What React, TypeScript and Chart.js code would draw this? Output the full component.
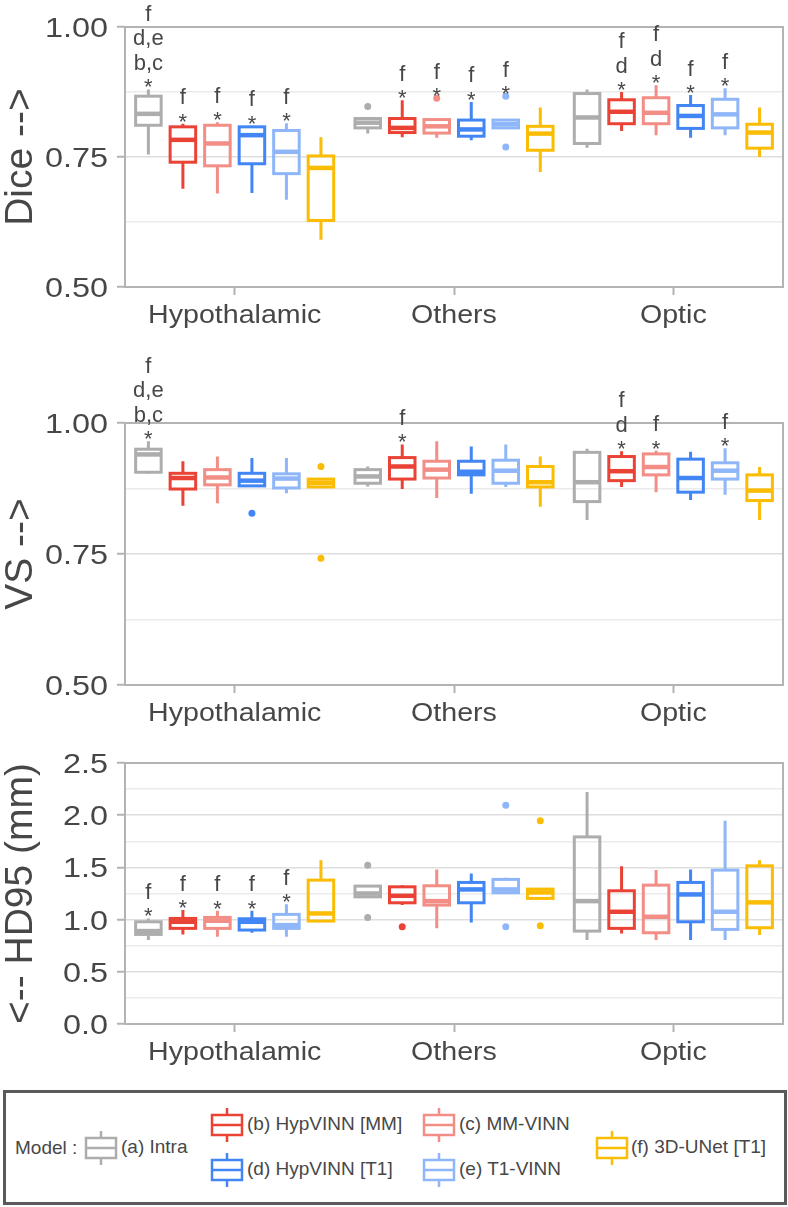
import React, { useEffect, useRef } from 'react';
import { Chart, registerables } from 'chart.js';

Chart.register(...registerables);

const categories = ['Hypothalamic', 'Others', 'Optic'];
const modelLabels = ['(a) Intra', '(b) HypVINN [MM]', '(c) MM-VINN', '(d) HypVINN [T1]', '(e) T1-VINN', '(f) 3D-UNet [T1]'];
const modelColors = ['#adadad', '#ea4335', '#f28e86', '#4285f4', '#8eb6f8', '#fbbc04'];

// five-number summaries: [lower whisker, Q1, median, Q3, upper whisker] for Hypothalamic, Others, Optic
const diceA = [[0.755, 0.811, 0.833, 0.867, 0.880], [0.795, 0.806, 0.816, 0.824, 0.826], [0.768, 0.776, 0.826, 0.872, 0.880]];
const diceB = [[0.689, 0.740, 0.783, 0.808, 0.814], [0.788, 0.797, 0.806, 0.824, 0.859], [0.800, 0.814, 0.837, 0.860, 0.875]];
const diceC = [[0.680, 0.733, 0.776, 0.811, 0.817], [0.787, 0.796, 0.809, 0.822, 0.823], [0.792, 0.814, 0.835, 0.864, 0.888]];
const diceD = [[0.681, 0.737, 0.792, 0.808, 0.810], [0.782, 0.790, 0.803, 0.821, 0.856], [0.787, 0.805, 0.829, 0.849, 0.869]];
const diceE = [[0.668, 0.718, 0.760, 0.801, 0.815], [0.804, 0.806, 0.813, 0.821, 0.823], [0.792, 0.806, 0.832, 0.861, 0.882]];
const diceF = [[0.591, 0.628, 0.729, 0.752, 0.788], [0.721, 0.763, 0.795, 0.809, 0.845], [0.750, 0.767, 0.797, 0.813, 0.845]];
const diceOutliers = [[[], [0.847], []], [[], [], []], [[], [0.863], []], [[], [], []], [[], [0.867, 0.769], []], [[], [], []]];
const diceNotes = [
  [['f', 'd,e', 'b,c', '*'], [], []],
  [['f', '*'], ['f', '*'], ['f', 'd', '*']],
  [['f', '*'], ['f', '*'], ['f', 'd', '*']],
  [['f', '*'], ['f', '*'], ['f', '*']],
  [['f', '*'], ['f', '*'], ['f', '*']],
  [[], [], []],
];
const diceTicks = ['0.50', '0.75', '1.00'];

const vsA = [[0.903, 0.906, 0.940, 0.950, 0.965], [0.879, 0.885, 0.898, 0.911, 0.917], [0.815, 0.850, 0.887, 0.944, 0.951]];
const vsB = [[0.842, 0.874, 0.895, 0.904, 0.927], [0.874, 0.893, 0.917, 0.934, 0.959], [0.878, 0.890, 0.908, 0.936, 0.946]];
const vsC = [[0.847, 0.882, 0.896, 0.911, 0.936], [0.857, 0.895, 0.911, 0.927, 0.965], [0.868, 0.901, 0.916, 0.941, 0.947]];
const vsD = [[0.878, 0.880, 0.890, 0.904, 0.933], [0.865, 0.901, 0.907, 0.927, 0.955], [0.853, 0.868, 0.895, 0.931, 0.945]];
const vsE = [[0.866, 0.876, 0.894, 0.903, 0.933], [0.878, 0.885, 0.909, 0.929, 0.959], [0.863, 0.893, 0.909, 0.924, 0.952]];
const vsF = [[0.878, 0.878, 0.886, 0.893, 0.893], [0.840, 0.878, 0.887, 0.917, 0.936], [0.815, 0.852, 0.871, 0.901, 0.916]];
const vsOutliers = [[[], [], []], [[], [], []], [[], [], []], [[0.828], [], []], [[], [], []], [[0.917, 0.742], [], []]];
const vsNotes = [
  [['f', 'd,e', 'b,c', '*'], [], []],
  [[], ['f', '*'], ['f', 'd', '*']],
  [[], [], ['f', '*']],
  [[], [], []],
  [[], [], ['f', '*']],
  [[], [], []],
];
const vsTicks = ['0.50', '0.75', '1.00'];

const hdA = [[0.804, 0.858, 0.890, 0.979, 1.011], [1.210, 1.218, 1.250, 1.321, 1.330], [0.804, 0.890, 1.177, 1.792, 2.223]];
const hdB = [[0.858, 0.916, 0.979, 1.011, 1.091], [1.139, 1.161, 1.228, 1.314, 1.330], [0.868, 0.916, 1.075, 1.276, 1.512]];
const hdC = [[0.835, 0.916, 0.989, 1.021, 1.084], [0.916, 1.139, 1.177, 1.324, 1.480], [0.804, 0.874, 1.027, 1.330, 1.474]];
const hdD = [[0.874, 0.900, 0.979, 1.008, 1.084], [0.973, 1.161, 1.289, 1.356, 1.442], [0.804, 0.979, 1.241, 1.356, 1.480]];
const hdE = [[0.835, 0.916, 0.947, 1.050, 1.148], [1.250, 1.257, 1.289, 1.385, 1.400], [0.804, 0.906, 1.075, 1.474, 1.946]];
const hdF = [[0.986, 0.986, 1.059, 1.378, 1.569], [1.203, 1.203, 1.260, 1.292, 1.292], [0.852, 0.922, 1.165, 1.515, 1.569]];
const hdOutliers = [[[], [1.521, 1.021], []], [[], [0.931], []], [[], [], []], [[], [], []], [[], [2.096, 0.931], []], [[], [1.946, 0.941], []]];
const hdNotes = [
  [['f', '*'], [], []],
  [['f', '*'], [], []],
  [['f', '*'], [], []],
  [['f', '*'], [], []],
  [['f', '*'], [], []],
  [[], [], []],
];
const hdTicks = ['0.0', '0.5', '1.0', '1.5', '2.0', '2.5'];

const TEXT = '#474747';
const FRAME = '#b3b3b3';
const FONT = '"Liberation Sans", Arial, Helvetica, sans-serif';

type Panel = {
  title: string;
  top: number;
  height: number;
  plotTop: number;
  plotBottom: number;
  min: number;
  max: number;
  minorStep: number;
  majorStep: number;
  tickLabels: string[];
  stats: number[][][];
  outliers: number[][][];
  notes: string[][][];
};

const panels: Panel[] = [
  { title: 'Dice -->', top: 0, height: 335, plotTop: 27, plotBottom: 287, min: 0.5, max: 1.0, minorStep: 0.125, majorStep: 0.25,
    tickLabels: diceTicks, stats: [diceA, diceB, diceC, diceD, diceE, diceF], outliers: diceOutliers, notes: diceNotes },
  { title: 'VS -->', top: 335, height: 400, plotTop: 88, plotBottom: 350, min: 0.5, max: 1.0, minorStep: 0.125, majorStep: 0.25,
    tickLabels: vsTicks, stats: [vsA, vsB, vsC, vsD, vsE, vsF], outliers: vsOutliers, notes: vsNotes },
  { title: '<-- HD95 (mm)', top: 735, height: 345, plotTop: 28, plotBottom: 289, min: 0, max: 2.5, minorStep: 0.25, majorStep: 0.5,
    tickLabels: hdTicks, stats: [hdA, hdB, hdC, hdD, hdE, hdF], outliers: hdOutliers, notes: hdNotes },
];

function isMajor(v: number, step: number) {
  const r = v / step;
  return Math.abs(r - Math.round(r)) < 1e-6;
}

function makePlugin(p: Panel) {
  return {
    id: 'boxes',
    beforeDatasetsDraw(chart: any) {
      const { ctx, chartArea: a } = chart;
      ctx.save();
      ctx.strokeStyle = FRAME;
      ctx.lineWidth = 2;
      ctx.strokeRect(a.left, a.top, a.right - a.left, a.bottom - a.top);
      ctx.restore();
    },
    afterDatasetsDraw(chart: any) {
      const { ctx } = chart;
      const ys = chart.scales.y;
      const px = (v: number) => ys.getPixelForValue(v);
      ctx.save();
      chart.data.datasets.forEach((_ds: any, di: number) => {
        const meta = chart.getDatasetMeta(di);
        const color = modelColors[di];
        meta.data.forEach((el: any, ci: number) => {
          const s = p.stats[di][ci];
          const x = el.x;
          const w = el.width;
          ctx.strokeStyle = color;
          ctx.fillStyle = color;
          ctx.lineCap = 'butt';
          ctx.lineWidth = 3;
          ctx.beginPath();
          ctx.moveTo(x, px(s[0]));
          ctx.lineTo(x, px(s[1]));
          ctx.moveTo(x, px(s[3]));
          ctx.lineTo(x, px(s[4]));
          ctx.stroke();
          ctx.lineWidth = 3;
          ctx.strokeRect(x - w / 2, px(s[3]), w, px(s[1]) - px(s[3]));
          ctx.lineWidth = 4.5;
          ctx.beginPath();
          ctx.moveTo(x - w / 2, px(s[2]));
          ctx.lineTo(x + w / 2, px(s[2]));
          ctx.stroke();
          const outs = p.outliers[di][ci];
          outs.forEach((v) => {
            ctx.beginPath();
            ctx.arc(x, px(v), 3.5, 0, Math.PI * 2);
            ctx.fill();
          });
          const notes = p.notes[di][ci];
          if (notes.length) {
            const topVal = Math.max(s[4], ...outs);
            const base = px(topVal) + 5;
            ctx.fillStyle = TEXT;
            ctx.font = `22px ${FONT}`;
            ctx.textAlign = 'center';
            ctx.textBaseline = 'alphabetic';
            for (let k = notes.length - 1; k >= 0; k--) {
              const off = notes.length - 1 - k;
              ctx.fillText(notes[k], x, base - off * 24.5);
            }
          }
        });
      });
      ctx.restore();
    },
    afterDraw(chart: any) {
      const { ctx, chartArea: a } = chart;
      const ys = chart.scales.y;
      const xs = chart.scales.x;
      ctx.save();
      ctx.fillStyle = TEXT;
      ctx.textBaseline = 'alphabetic';
      ctx.font = `27px ${FONT}`;
      ctx.textAlign = 'right';
      p.tickLabels.forEach((lab) => {
        const y = ys.getPixelForValue(Number(lab));
        ctx.save();
        ctx.translate(108, y + 10);
        ctx.scale(1.2, 1);
        ctx.fillText(lab, 0, 0);
        ctx.restore();
      });
      ctx.font = `26px ${FONT}`;
      ctx.textAlign = 'center';
      categories.forEach((c, i) => {
        const x = xs.getPixelForValue(i);
        ctx.save();
        ctx.translate(x, a.bottom + 36);
        ctx.scale(1.1, 1);
        ctx.fillText(c, 0, 0);
        ctx.restore();
      });
      ctx.font = `39px ${FONT}`;
      ctx.save();
      ctx.translate(32, (a.top + a.bottom) / 2);
      ctx.rotate(-Math.PI / 2);
      ctx.textAlign = 'center';
      ctx.fillText(p.title, 0, 0);
      ctx.restore();
      ctx.restore();
    },
  };
}

function PanelChart({ p }: { p: Panel }) {
  const ref = useRef<HTMLCanvasElement | null>(null);
  useEffect(() => {
    if (!ref.current) return;
    const chart = new Chart(ref.current, {
      type: 'bar',
      data: {
        labels: categories,
        datasets: modelLabels.map((name, i) => ({
          label: name,
          data: p.stats[i].map((s) => [s[1], s[3]]),
          backgroundColor: 'rgba(0,0,0,0)',
          borderWidth: 0,
          categoryPercentage: 0.944,
          barPercentage: 0.74,
        })),
      } as any,
      options: {
        responsive: false,
        animation: false,
        devicePixelRatio: 1,
        events: [],
        layout: { padding: { top: p.plotTop, right: 5, left: 0, bottom: 0 } },
        plugins: { legend: { display: false }, tooltip: { enabled: false } },
        scales: {
          x: {
            type: 'category',
            offset: true,
            border: { display: false },
            ticks: { display: false },
            grid: { display: true, drawOnChartArea: false, drawTicks: true, tickLength: 8, tickColor: FRAME, tickWidth: 2, offset: false },
            afterFit: (s: any) => { s.height = p.height - p.plotBottom; },
          },
          y: {
            type: 'linear',
            min: p.min,
            max: p.max,
            border: { display: false },
            ticks: { display: false, stepSize: p.minorStep },
            grid: {
              drawTicks: true,
              tickLength: 8,
              tickWidth: 2,
              lineWidth: 1.5,
              color: (c: any) => {
                const v = c.tick ? c.tick.value : 0;
                if (Math.abs(v - p.min) < 1e-6 || Math.abs(v - p.max) < 1e-6) return 'rgba(0,0,0,0)';
                return isMajor(v, p.majorStep) ? '#dedede' : '#ebebeb';
              },
              tickColor: (c: any) => {
                const v = c.tick ? c.tick.value : 0;
                return isMajor(v, p.majorStep) ? FRAME : 'rgba(0,0,0,0)';
              },
            },
            afterFit: (s: any) => { s.width = 125; },
          },
        },
      } as any,
      plugins: [makePlugin(p)],
    });
    return () => chart.destroy();
  }, [p]);
  return (
    <canvas
      ref={ref}
      width={788}
      height={p.height}
      style={{ position: 'absolute', left: 0, top: p.top, width: 788, height: p.height }}
    />
  );
}

const legendPos = [
  { x: 84, y: 1148, tx: 121 },
  { x: 210, y: 1125, tx: 247 },
  { x: 422, y: 1125, tx: 459 },
  { x: 210, y: 1170, tx: 247 },
  { x: 422, y: 1170, tx: 459 },
  { x: 595, y: 1148, tx: 631 },
];

function Legend() {
  const textStyle = { position: 'absolute' as const, font: `19px ${FONT}`, lineHeight: '22px', color: TEXT, whiteSpace: 'nowrap' as const };
  return (
    <>
      <div
        style={{
          position: 'absolute', left: 3, top: 1090, width: 778, height: 109,
          border: '3px solid #5a5a5a', background: '#fff',
        }}
      />
      <span style={{ ...textStyle, left: 15, top: 1137 }}>Model :</span>
      {modelLabels.map((name, i) => {
        const c = modelColors[i];
        const pos = legendPos[i];
        return (
          <React.Fragment key={name}>
            <svg width={34} height={36} style={{ position: 'absolute', left: pos.x, top: pos.y - 18 }}>
              <line x1={17} y1={1} x2={17} y2={8} stroke={c} strokeWidth={2.5} />
              <rect x={2} y={8} width={30} height={20} fill="none" stroke={c} strokeWidth={2.5} />
              <line x1={2} y1={18} x2={32} y2={18} stroke={c} strokeWidth={2.5} />
              <line x1={17} y1={28} x2={17} y2={35} stroke={c} strokeWidth={2.5} />
            </svg>
            <span style={{ ...textStyle, left: pos.tx, top: pos.y - 12 }}>{name}</span>
          </React.Fragment>
        );
      })}
    </>
  );
}

export default function App() {
  return (
    <div style={{ position: 'absolute', left: 0, top: 0, width: 788, height: 1207, background: '#fff', overflow: 'hidden' }}>
      {panels.map((p, i) => (
        <PanelChart key={i} p={p} />
      ))}
      <Legend />
    </div>
  );
}
